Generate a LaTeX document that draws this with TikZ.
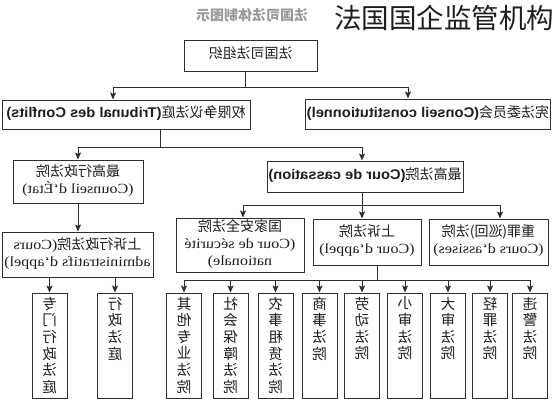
\documentclass[tikz,border=0pt]{standalone}
\usepackage{fontspec}
\usepackage{graphicx}
\setmainfont{Liberation Serif}[FakeStretch=1.15]
\newfontfamily\cjk{Noto Sans CJK SC}
\newfontfamily\sansb{Liberation Sans}[FakeStretch=1.05]
\usetikzlibrary{arrows.meta}
\definecolor{lc}{HTML}{2E2E2E}
\definecolor{tc}{HTML}{1E1E1E}
\definecolor{gt}{HTML}{9A9A9A}
\newcommand\zh[1]{{\cjk #1}}
\newcommand\lb[1]{{\sansb\bfseries #1}}
\newcommand\mt[1]{\reflectbox{\begin{tabular}{@{}c@{}}#1\end{tabular}}}
\newcommand\vt[1]{\reflectbox{\parbox[t][97pt][t]{16pt}{\centering\cjk #1}}}
\begin{document}
\begin{tikzpicture}[x=1pt,y=-1pt,
  box/.style={draw=lc, fill=white, line width=1pt, inner sep=1pt, text=tc,
    font=\fontsize{14}{17}\selectfont},
  vbox/.style={draw=lc, fill=white, line width=1pt, inner xsep=0pt, inner ysep=4pt,
    minimum width=35pt, minimum height=105pt, text=tc,
    font=\fontsize{14.5}{16.6}\selectfont},
  ln/.style={draw=lc, line width=1pt},
  arr/.style={ln, -{Stealth[length=7pt,width=6pt,inset=1.5pt]}}]
\useasboundingbox (0,0) rectangle (556,400);

% titles
\node[text=gt, font=\fontsize{14}{16}\selectfont] (gtitle) at (252,15) {\reflectbox{\cjk\bfseries 法国司法体制图示}};
\node[text=tc, font=\fontsize{27.5}{30}\selectfont, inner sep=0pt] (title) at (444,18) {\zh{法国国企监管机构}};

% main boxes
\node[box, minimum width=133pt, minimum height=31pt] (T) at (250.5,55.5) {\mt{\zh{法国司法组织}}};
\node[box, minimum width=248pt, minimum height=29pt] (TC) at (126,114.5) {\mt{\zh{权限争议法庭}\lb{(Tribunal des Conflits)}}};
\node[box, minimum width=244pt, minimum height=30pt] (CC) at (428,114) {\mt{\zh{宪法委员会}\lb{(Conseil constitutionnel)}}};
\node[box, minimum width=130pt, minimum height=43pt] (CE) at (78,181.5) {\mt{\zh{最高行政法院}\\(Counseil d`État)}};
\node[box, minimum width=196pt, minimum height=31pt] (CCa) at (365,176.5) {\mt{\zh{最高法院}\lb{(Cour de cassation)}}};
\node[box, minimum width=151pt, minimum height=45pt] (CAA) at (77.5,254.5) {\mt{\zh{上诉行政法院}(Cours\\administratifs d`appel)}};
\node[box, minimum width=128pt, minimum height=54pt] (CSN) at (240,245) {\mt{\zh{国家安全法院}\\(Cour de sécurité\\nationale)}};
\node[box, minimum width=108pt, minimum height=46pt] (CA) at (367,242) {\mt{\zh{上诉法院}\\(Cour d`appel)}};
\node[box, minimum width=119pt, minimum height=46pt] (CAs) at (488.5,242) {\mt{\zh{重罪(巡回)法院}\\(Cours d`assises)}};

% bottom boxes
\node[vbox] (ZX) at (49.5,345.5) {\vt{专\\门\\行\\政\\法\\庭}};
\node[vbox] (XZ) at (115,345.5) {\vt{行\\政\\法\\庭}};
\node[vbox] (R1) at (184,345.5) {\vt{其\\他\\专\\业\\法\\院}};
\node[vbox] (R2) at (230.5,345.5) {\vt{社\\会\\保\\障\\法\\院}};
\node[vbox] (R3) at (275.5,345.5) {\vt{农\\事\\租\\赁\\法\\院}};
\node[vbox] (R4) at (319.5,345.5) {\vt{商\\事\\法\\院}};
\node[vbox] (R5) at (362,345.5) {\vt{劳\\动\\法\\院}};
\node[vbox] (R6) at (405,345.5) {\vt{小\\审\\法\\院}};
\node[vbox] (R7) at (448,345.5) {\vt{大\\审\\法\\院}};
\node[vbox] (R8) at (490,345.5) {\vt{轻\\罪\\法\\院}};
\node[vbox] (R9) at (530,345.5) {\vt{违\\警\\法\\院}};

% connectors level 0
\coordinate (j1) at (245,87);
\coordinate (b1l) at (113,87);
\coordinate (b1r) at (408,87);
\draw[ln] (T.south -| j1) -- (j1);
\draw[ln] (b1l) -- (b1r);
\draw[arr] (b1l) -- (b1l |- TC.north);
\draw[arr] (b1r) -- (b1r |- CC.north);

% level 1
\coordinate (j2) at (160,147);
\coordinate (b2l) at (78,147);
\coordinate (b2r) at (362,147);
\draw[ln] (TC.south -| j2) -- (j2);
\draw[ln] (b2l) -- (b2r);
\draw[arr] (b2l) -- (b2l |- CE.north);
\draw[arr] (b2r) -- (b2r |- CCa.north);

% Conseil d'Etat -> CAA
\draw[arr] (CE.south) -- (CE.south |- CAA.north);
\draw[arr] (CAA.south -| ZX) -- (ZX.north);
\draw[arr] (CAA.south -| XZ) -- (XZ.north);

% level 2
\coordinate (j3) at (362,205);
\coordinate (b3l) at (243,205);
\coordinate (b3r) at (500,205);
\draw[ln] (CCa.south -| j3) -- (j3);
\draw[ln] (b3l) -- (b3r);
\draw[arr] (b3l) -- (b3l |- CSN.north);
\draw[arr] (j3) -- (j3 |- CA.north);
\draw[arr] (b3r) -- (b3r |- CAs.north);

% level 3
\coordinate (j4) at (377,280);
\draw[ln] (CA.south -| j4) -- (j4);
\draw[ln] (j4 -| R1) -- (j4 -| R9);
\foreach \r in {R1,R2,R3,R4,R5,R6,R7,R8,R9}
  \draw[arr] (j4 -| \r) -- (\r.north);
\end{tikzpicture}
\end{document}
